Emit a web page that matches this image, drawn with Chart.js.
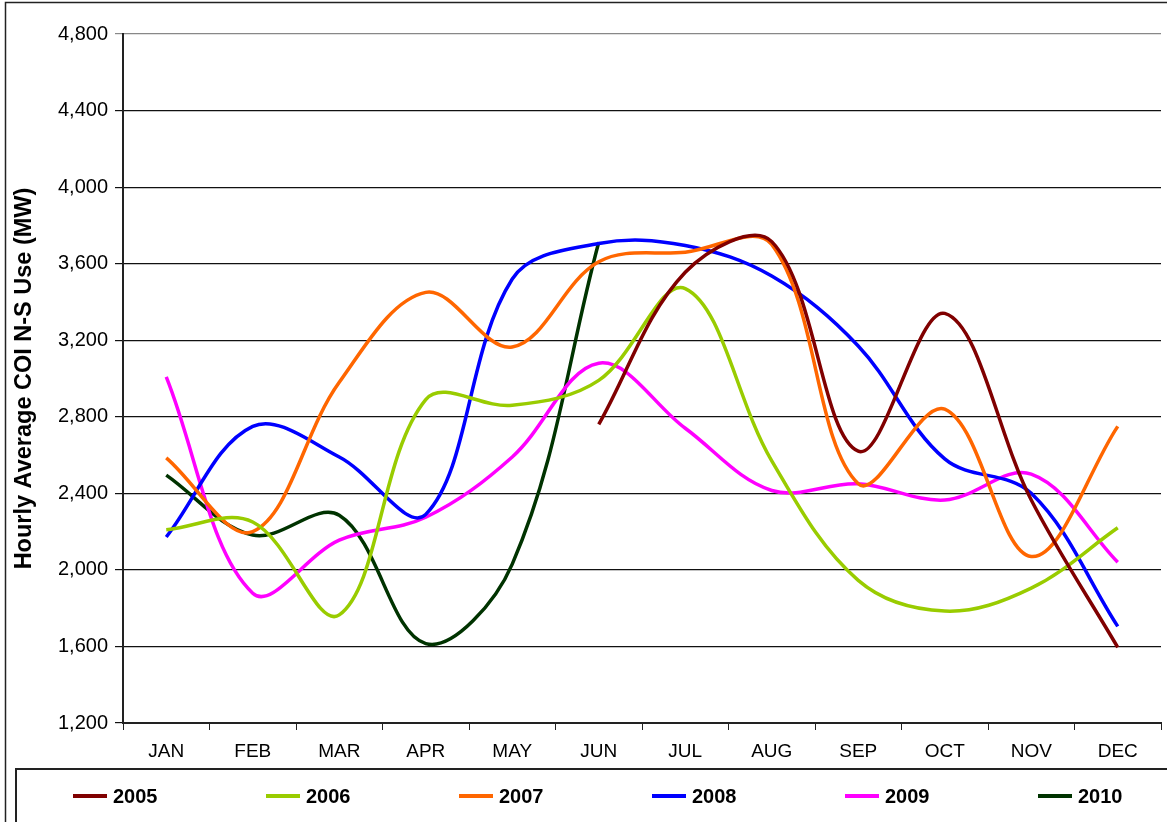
<!DOCTYPE html>
<html>
<head>
<meta charset="utf-8">
<script src="https://cdn.jsdelivr.net/npm/chart.js@4.4.0/dist/chart.umd.min.js"></script>
<style>
  html, body { margin: 0; padding: 0; background: #fff; }
  #wrap { width: 1167px; height: 822px; position: relative; }
</style>
</head>
<body>
<div id="wrap"><canvas id="coiChart"></canvas></div>
<script>
// Datos mensuales (MW)
const months = ["JAN", "FEB", "MAR", "APR", "MAY", "JUN", "JUL", "AUG", "SEP", "OCT", "NOV", "DEC"];
const yearLabels = ["2005", "2006", "2007", "2008", "2009", "2010"];
const yearColors = ["#800000", "#99cc00", "#ff6600", "#0000ff", "#ff00ff", "#003300"];

const y2005 = [null, null, null, null, null, 2760, 3555, 3715, 2620, 3340, 2365, 1595];
const y2006 = [2210, 2250, 1765, 2890, 2860, 2990, 3470, 2570, 1945, 1785, 1905, 2220];
const y2007 = [2585, 2200, 2980, 3450, 3165, 3610, 3660, 3700, 2450, 2840, 2070, 2750];
const y2008 = [2172, 2750, 2590, 2290, 3520, 3705, 3695, 3535, 3170, 2580, 2400, 1705];
const y2009 = [3008, 1878, 2155, 2275, 2590, 3080, 2740, 2415, 2450, 2365, 2500, 2040];
const y2010 = [2495, 2182, 2285, 1615, 2030, 3712, null, null, null, null, null, null];

const yTicks = [1200, 1600, 2000, 2400, 2800, 3200, 3600, 4000, 4400, 4800];

const series = [y2005, y2006, y2007, y2008, y2009, y2010];

// Marco exterior y leyenda recuadrada
const framePlugin = {
    id: 'frame',
    afterDraw(chart) {
        const c = chart.ctx;
        c.save();
        c.strokeStyle = '#222';
        c.lineWidth = 1.5;
        c.strokeRect(5.5, 2.5, 1180, 840);
        c.lineWidth = 2;
        c.strokeRect(16, 769, 1170, 60);
        c.font = "bold 20px 'Liberation Sans', Arial, sans-serif";
        c.textBaseline = 'middle';
        chart.data.datasets.forEach((ds, i) => {
            const x = 73 + i * 193;
            c.fillStyle = ds.borderColor;
            c.fillRect(x, 794, 34, 4);
            c.fillStyle = '#000';
            c.fillText(ds.label, x + 40, 797);
        });
        c.restore();
    }
};

const ctx = document.getElementById('coiChart').getContext('2d');
new Chart(ctx, {
    type: 'line',
    data: {
        labels: months,
        datasets: series.map((d, i) => ({
            label: yearLabels[i],
            data: d,
            borderColor: yearColors[i],
            backgroundColor: yearColors[i],
            borderWidth: 3.5,
            pointRadius: 0,
            tension: 0.36,
            fill: false,
            spanGaps: false
        }))
    },
    options: {
        responsive: true,
        maintainAspectRatio: false,
        animation: false,
        layout: { padding: { top: 34, bottom: 54, left: 8, right: 6 } },
        plugins: {
            legend: { display: false },
            tooltip: { enabled: false }
        },
        scales: {
            x: {
                offset: true,
                afterFit: (s) => { s.height = 45; },
                border: { color: '#222', width: 2 },
                grid: {
                    offset: true,
                    drawOnChartArea: false,
                    drawTicks: true,
                    tickLength: 7,
                    color: '#222'
                },
                ticks: {
                    color: '#000',
                    padding: 10,
                    maxRotation: 0,
                    font: { size: 19, family: "'Liberation Sans', Arial, sans-serif" }
                }
            },
            y: {
                min: 1200,
                max: 4800,
                afterFit: (s) => { s.width = 115; },
                afterBuildTicks: (s) => { s.ticks = yTicks.map(v => ({ value: v })); },
                border: { color: '#222', width: 2 },
                grid: {
                    color: (c) => c.tick && c.tick.value === 4800 ? '#888' : '#111',
                    lineWidth: 1.2,
                    tickLength: 8
                },
                ticks: {
                    color: '#000',
                    padding: 7,
                    font: { size: 20, family: "'Liberation Sans', Arial, sans-serif" },
                    callback: (v) => v.toLocaleString('en-US')
                },
                title: {
                    display: true,
                    text: 'Hourly Average COI N-S Use (MW)',
                    color: '#000',
                    padding: { top: 2, bottom: 0 },
                    font: { size: 23.5, weight: 'bold', family: "'Liberation Sans', Arial, sans-serif" }
                }
            }
        }
    },
    plugins: [framePlugin]
});
</script>
</body>
</html>
